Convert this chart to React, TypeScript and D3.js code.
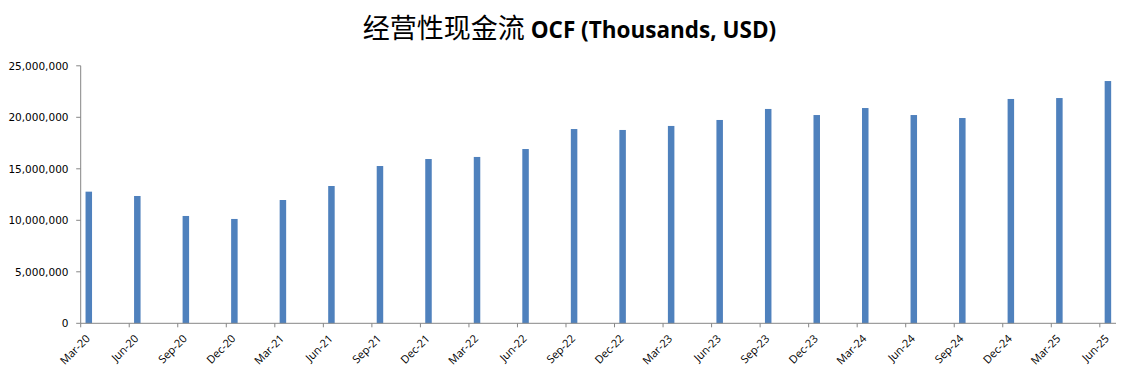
import React from "react";
import * as d3 from "d3";

const categories = [
  "Mar-20", "Jun-20", "Sep-20", "Dec-20",
  "Mar-21", "Jun-21", "Sep-21", "Dec-21",
  "Mar-22", "Jun-22", "Sep-22", "Dec-22",
  "Mar-23", "Jun-23", "Sep-23", "Dec-23",
  "Mar-24", "Jun-24", "Sep-24", "Dec-24",
  "Mar-25", "Jun-25",
];

const ocfValues = [
  12780000, 12360000, 10420000, 10130000,
  11970000, 13330000, 15270000, 15950000,
  16150000, 16920000, 18860000, 18770000,
  19160000, 19740000, 20810000, 20220000,
  20900000, 20220000, 19930000, 21780000,
  21870000, 23520000,
];

const yTicks = [0, 5000000, 10000000, 15000000, 20000000, 25000000];

const W = 1139;
const H = 383;
const left = 80.7;
const right = 1116;
const top = 65.8;
const bottom = 323.3;
const monthsPerStep = 3;
const totalMonths = (categories.length - 1) * monthsPerStep + 1;

export default function App() {
  const x = d3.scaleLinear().domain([0, totalMonths]).range([left, right]);
  const y = d3.scaleLinear().domain([0, 25000000]).range([bottom, top]);
  const fmt = d3.format(",");
  const barW = 6.5;
  const axisColor = "#868686";

  return (
    <svg
      width={W}
      height={H}
      style={{ position: "absolute", left: 0, top: 0, background: "#fff" }}
    >
      <text x={W / 2} y={38} textAnchor="middle" fill="#000">
        <tspan fontFamily="'Noto Sans CJK SC'" fontSize={27}>经营性现金流</tspan>
        <tspan fontFamily="'Open Sans'" fontWeight="bold" fontSize={22.5}> OCF (Thousands, USD)</tspan>
      </text>

      {ocfValues.map((v, i) => {
        const cx = x(i * monthsPerStep + 0.5);
        return (
          <rect
            key={categories[i]}
            x={cx - barW / 2}
            y={y(v)}
            width={barW}
            height={y(0) - y(v)}
            fill="#4F81BD"
          />
        );
      })}

      <line x1={left} x2={left} y1={top} y2={bottom} stroke={axisColor} strokeWidth={1} />
      {yTicks.map((t) => (
        <g key={t}>
          <line x1={left - 4.5} x2={left} y1={y(t)} y2={y(t)} stroke={axisColor} />
          <text
            x={68.5}
            y={y(t)}
            dy="0.36em"
            textAnchor="end"
            fontFamily="'DejaVu Sans'"
            fontSize={10.5}
            fill="#000"
          >
            {fmt(t)}
          </text>
        </g>
      ))}

      <line x1={left} x2={right} y1={bottom} y2={bottom} stroke={axisColor} strokeWidth={1} />
      {categories.map((c, i) => {
        const tx = x(i * monthsPerStep);
        return (
          <g key={c}>
            <line x1={tx} x2={tx} y1={bottom} y2={bottom + 4} stroke={axisColor} />
            <text
              transform={`translate(${tx + 10},${bottom + 16}) rotate(-45)`}
              textAnchor="end"
              fontFamily="'Open Sans'"
              fontSize={11}
              fill="#000"
            >
              {c}
            </text>
          </g>
        );
      })}
    </svg>
  );
}
